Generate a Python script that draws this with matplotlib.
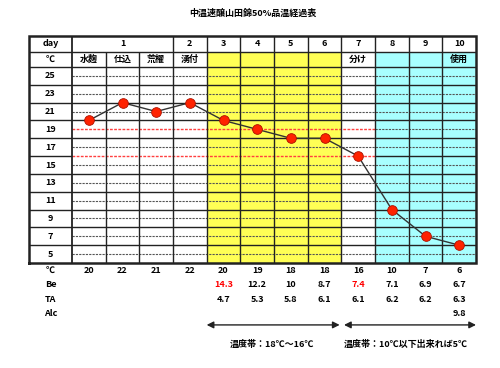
"""Moromi temperature log table (中温速醸 山田錦50%)."""

import matplotlib
matplotlib.use('Agg')
from matplotlib import pyplot

# Data.
day_labels = ['1', '2', '3', '4', '5', '6', '7', '8', '9', '10']
day_spans = [3, 1, 1, 1, 1, 1, 1, 1, 1, 1]  # columns per day
stages = ['水麹', '仕込', '荒櫂', '湧付', '', '', '', '', '分け', '', '', '使用']
temps = [20, 22, 21, 22, 20, 19, 18, 18, 16, 10, 7, 6]
be = ['', '', '', '', '14.3', '12.2', '10', '8.7', '7.4', '7.1', '6.9', '6.7']
be_red = ['14.3', '7.4']
ta = ['', '', '', '', '4.7', '5.3', '5.8', '6.1', '6.1', '6.2', '6.2', '6.3']
alc = ['', '', '', '', '', '', '', '', '', '', '', '9.8']
yticks = [25, 23, 21, 19, 17, 15, 13, 11, 9, 7, 5]
yellow_cols = [4, 5, 6, 7]
cyan_cols = [9, 10, 11]
band_texts = ['温度帯：18℃～16℃', '温度帯：10℃以下出来れば5℃']

pyplot.rcParams['font.family'] = ['Noto Sans CJK JP', 'DejaVu Sans']
fig = pyplot.figure(figsize=(5.0, 3.68), dpi=100)
ax = fig.add_axes([0.144, 1 - 263 / 368, 0.808, 196 / 368])
ax.set_xlim(-0.5, 11.5)
ax.set_ylim(4, 26)
ax.axis('off')

ncol = len(temps)
cols = list(range(ncol))
y_deg = 27.72   # top of the ℃ row
y_top = 29.48   # top of the day row
x_left = -1.78  # left edge of the label column
lab_x = (x_left - 0.5) / 2
black = '#222222'
red_line = '#ff3f3f'

# Coloured columns.
ax.bar(yellow_cols, y_deg - 4, bottom=4, width=1.0, color='#ffff55',
       clip_on=False, zorder=0)
ax.bar(cyan_cols, y_deg - 4, bottom=4, width=1.0, color='#a8ffff',
       clip_on=False, zorder=0)

# Dashed lines at each labelled temperature.
for t in yticks:
    if t == 19:
        ax.hlines(t, 8.5, 11.5, color='#555555', lw=0.8, linestyle=(0, (2, 1)))
        ax.hlines(t, -0.5, 8.5, color=red_line, lw=1.0, linestyle=(0, (2, 1)))
    else:
        ax.hlines(t, -0.5, 11.5, color='#555555', lw=0.8, linestyle=(0, (2, 1)))

# Solid row boundaries.
for t in range(6, 26, 2):
    if t == 16:
        ax.hlines(t, x_left, -0.5, color=black, lw=1.0, clip_on=False)
        ax.hlines(t, 8.5, 11.5, color=black, lw=1.0)
        ax.hlines(t, -0.5, 8.5, color=red_line, lw=1.0, linestyle=(0, (2, 1)))
    else:
        ax.hlines(t, x_left, 11.5, color=black, lw=1.0, clip_on=False)
ax.hlines([26, y_deg], x_left, 11.5, color=black, lw=1.0, clip_on=False)

# Column boundaries.
ax.vlines([c + 0.5 for c in cols[:-1]], 4, y_deg, color=black, lw=1.0,
          clip_on=False)
edge = -0.5
for span in day_spans[:-1]:
    edge += span
    ax.vlines(edge, y_deg, y_top, color=black, lw=1.0, clip_on=False)
ax.vlines(-0.5, 4, y_top, color=black, lw=1.3, clip_on=False)

# Outer border.
ax.plot([x_left, 11.5, 11.5, x_left, x_left], [4, 4, y_top, y_top, 4],
        color=black, lw=1.8, clip_on=False, solid_joinstyle='miter')

# Header texts.
fs = 6.5
start = -0.5
for label, span in zip(day_labels, day_spans):
    ax.text(start + span / 2, (y_deg + y_top) / 2, label, ha='center',
            va='center', fontsize=fs, fontweight='bold')
    start += span
for c, s in zip(cols, stages):
    ax.text(c, (26 + y_deg) / 2, s, ha='center', va='center', fontsize=fs,
            fontweight='bold')
ax.text(lab_x, (y_deg + y_top) / 2, 'day', ha='center', va='center',
        fontsize=fs, fontweight='bold')
ax.text(lab_x, (26 + y_deg) / 2, '℃', ha='center', va='center',
        fontsize=fs, fontweight='bold')
for t in yticks:
    ax.text(lab_x, t, str(t), ha='center', va='center', fontsize=fs,
            fontweight='bold')

# Temperature curve.
ax.plot(cols, temps, color='#333333', lw=1.0, marker='o', markersize=7,
        markerfacecolor='#ff2200', markeredgecolor='#aa1100',
        markeredgewidth=0.6, clip_on=False, zorder=5)

# Rows below the table.
rows = [('℃', [str(t) for t in temps], 3.21), ('Be', be, 1.55),
        ('TA', ta, -0.05), ('Alc', alc, -1.72)]
for name, values, y in rows:
    ax.text(lab_x, y, name, ha='center', va='center', fontsize=fs,
            fontweight='bold', clip_on=False)
    for c, v in zip(cols, values):
        color = 'red' if name == 'Be' and v in be_red else 'black'
        ax.text(c, y, v, ha='center', va='center', fontsize=fs,
                fontweight='bold', color=color, clip_on=False)

# Temperature band arrows.
arrow = dict(arrowstyle='<|-|>', color=black, lw=1.0, mutation_scale=10,
             shrinkA=0, shrinkB=0)
ax.annotate('', xy=(3.5, -2.95), xytext=(7.45, -2.95), arrowprops=arrow,
            annotation_clip=False)
ax.annotate('', xy=(7.58, -2.95), xytext=(11.5, -2.95), arrowprops=arrow,
            annotation_clip=False)
ax.text(5.45, -5.15, band_texts[0], ha='center', va='center', fontsize=fs,
        fontweight='bold', clip_on=False)
ax.text(9.4, -5.15, band_texts[1], ha='center', va='center', fontsize=fs,
        fontweight='bold', clip_on=False)

fig.text(0.506, 0.965, '中温速醸山田錦50%品温経過表', ha='center', va='center',
         fontsize=6.5, fontweight='bold')

fig.savefig('out.png', dpi=100)
